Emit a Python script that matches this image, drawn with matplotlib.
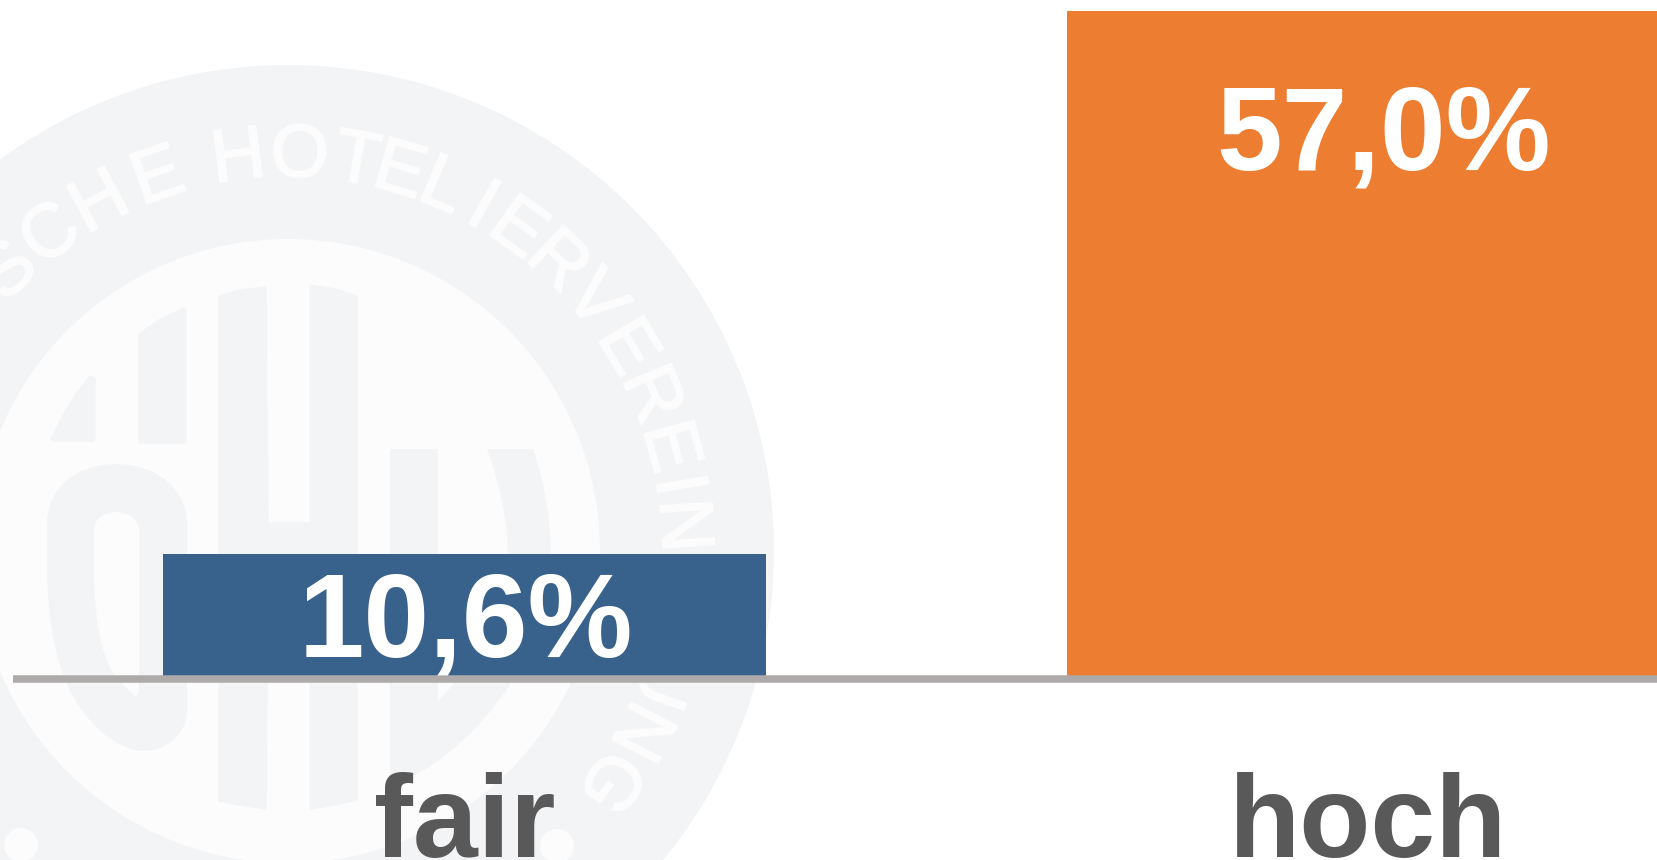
import matplotlib
matplotlib.use("Agg")
import matplotlib.pyplot as plt
import matplotlib.patheffects as pe
from matplotlib.patches import Circle, Polygon, PathPatch
from matplotlib.path import Path
import numpy as np

# chart data
categories = ["fair", "hoch"]
values = [10.6, 57.0]
value_labels = ["10,6%", "57,0%"]
bar_colors = ["#38618C", "#ED7D31"]

ring_color = "#F3F4F6"
inner_color = "#FCFCFC"

fig = plt.figure(figsize=(16.58, 8.6), dpi=100, facecolor="white")

# watermark logo in the background, in pixel coordinates
bg = fig.add_axes([0, 0, 1, 1], zorder=0)
bg.set_xlim(0, 1658)
bg.set_ylim(860, 0)
bg.axis("off")

cx, cy = 288, 551
bg.add_patch(Circle((cx, cy), 486, fc=ring_color, ec="none"))
bg.add_patch(Circle((cx, cy), 312, fc=inner_color, ec="none"))


def poly(points, color=ring_color):
    bg.add_patch(Polygon(points, closed=True, fc=color, ec=color, lw=1, joinstyle="round"))


def curve(start, segments, color=ring_color):
    # segments: plain (x, y) for a line, three points for a bezier
    verts = [start]
    codes = [Path.MOVETO]
    for seg in segments:
        if len(seg) == 3:
            verts += list(seg)
            codes += [Path.CURVE4] * 3
        else:
            verts.append(seg)
            codes.append(Path.LINETO)
    verts.append(start)
    codes.append(Path.CLOSEPOLY)
    bg.add_patch(PathPatch(Path(verts, codes), fc=color, ec="none"))


poly([(51, 439), (63, 415), (76, 394), (90, 376), (95, 378), (95, 439), (93, 441), (53, 441)])
poly([(139, 334), (159, 320), (184, 308), (186, 310), (186, 443), (139, 443)])
poly([(219, 296), (240, 290), (266, 287), (268, 523), (310, 523), (310, 285), (335, 289),
      (357, 296), (357, 800), (335, 805), (310, 809), (310, 608), (268, 608), (266, 809),
      (240, 805), (219, 801)])

# the rounded letter on the left
curve((47, 525), [((47, 485), (80, 464), (116, 464)),
                  ((152, 464), (187, 485), (187, 525)),
                  (187, 710),
                  ((187, 735), (165, 751), (145, 751)),
                  ((130, 751), (120, 745), (105, 735)),
                  ((70, 705), (47, 660), (47, 560))])
curve((94, 530), [((94, 518), (105, 512), (116, 512)),
                  ((127, 512), (139, 518), (139, 530)),
                  (139, 692), (136, 697), (118, 680),
                  ((105, 665), (94, 630), (94, 570))], inner_color)

# the D on the right
curve((390, 449), [(533, 449),
                   ((545, 485), (551, 520), (551, 560)),
                   ((551, 610), (535, 650), (513, 680)),
                   ((485, 725), (440, 765), (410, 777)),
                   (390, 785)])
curve((438, 449), [(487, 449),
                   ((500, 485), (508, 520), (508, 560)),
                   ((508, 615), (480, 665), (457, 680)),
                   (440, 699), (438, 701)], inner_color)

# dots on the edge of the inner circle
bg.add_patch(Circle((21, 845), 17, fc=inner_color, ec="none"))
bg.add_patch(Circle((557, 846), 17, fc=inner_color, ec="none"))

# lettering on the ring, angle clockwise from the top
ring_letters = list("TSCHEHOTELIERVEREINUNG")
ring_angles = [-52, -45, -36.9, -28.4, -19.2, -7.2, 1.7, 10, 16.4, 23, 29.5, 35.5, 43, 50.8,
               59, 66.7, 74.7, 80.4, 86.3, 109, 117, 125.5]
for letter, angle in zip(ring_letters, ring_angles):
    a = np.radians(angle)
    bg.text(cx + 394 * np.sin(a), cy - 394 * np.cos(a), letter, rotation=-angle,
            rotation_mode="anchor", ha="center", va="center", color=inner_color,
            fontsize=54, family="Liberation Sans",
            path_effects=[pe.withStroke(linewidth=1.3, foreground=inner_color)])

# the chart itself
px_per_unit = (678.5 - 10.5) / 57.0
spacing = 904.0
ax = fig.add_axes([0, 0, 1, 1], zorder=1)
ax.patch.set_alpha(0)
x = np.arange(len(categories))
ax.bar(x, values, width=603 / spacing, color=bar_colors)
ax.set_xlim(-464.5 / spacing, (1658 - 464.5) / spacing)
ax.set_ylim(-(860 - 678.5) / px_per_unit, 678.5 / px_per_unit)

for name in ["top", "left", "right"]:
    ax.spines[name].set_visible(False)
ax.spines["bottom"].set_position(("data", 0))
ax.spines["bottom"].set_bounds(-0.5, 1.5)
ax.spines["bottom"].set_color("#AEAAAA")
ax.spines["bottom"].set_linewidth(5.4)
ax.spines["bottom"].set_capstyle("butt")

ax.set_yticks([])
ax.set_xticks(x)
ax.set_xticklabels(categories, fontsize=84, fontweight="bold", color="#595959",
                   family="Liberation Sans")
ax.tick_params(axis="x", length=0, pad=67)

# value labels, pixel offsets from the top of each bar
label_shift = [(1, -102), (15, -159)]
for i, v in enumerate(values):
    ax.annotate(value_labels[i], xy=(x[i], v), xytext=label_shift[i], textcoords="offset pixels",
                ha="center", va="baseline", color="white", fontsize=85, fontweight="bold",
                family="Liberation Sans", zorder=3)

fig.savefig("out.png", dpi=100)
